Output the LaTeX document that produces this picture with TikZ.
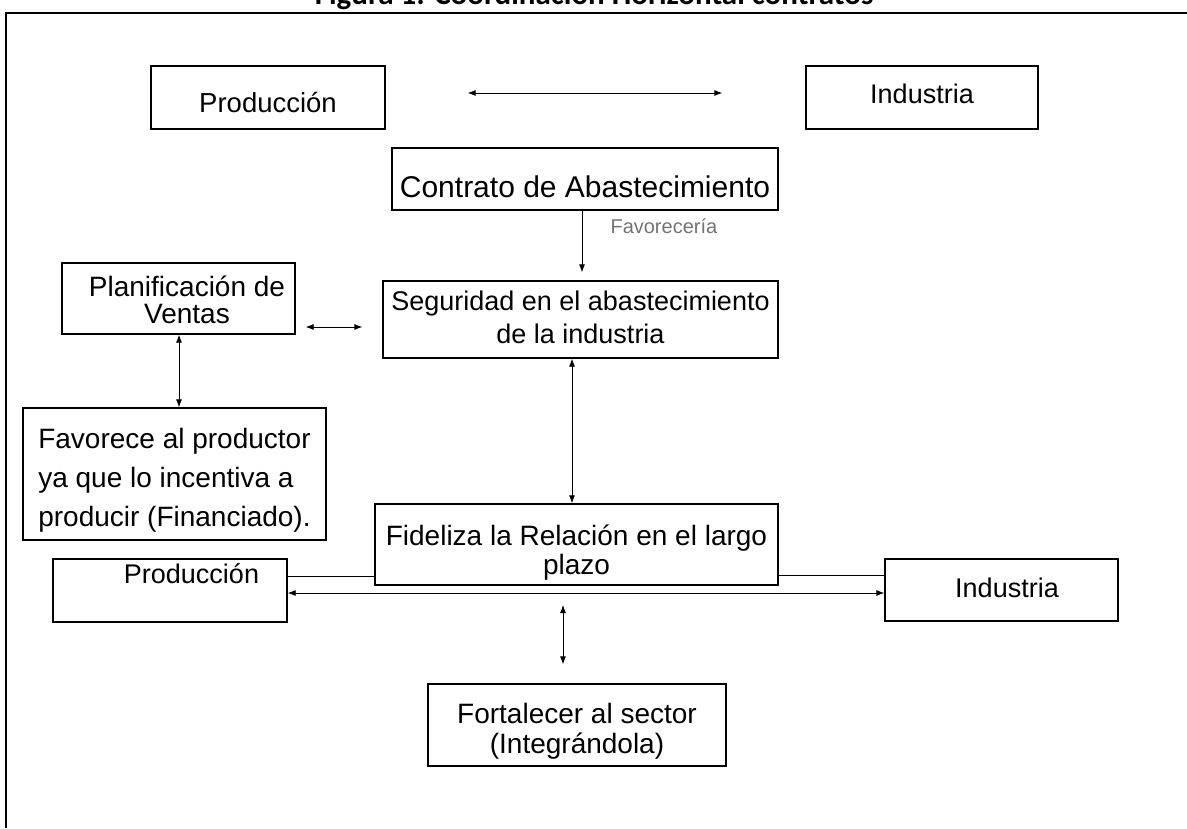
\documentclass[tikz,border=0pt]{standalone}
\usepackage{fontspec}
\setmainfont{Liberation Sans}
\newfontfamily\titlefont{Carlito}
\usetikzlibrary{arrows.meta}
\begin{document}
\begin{tikzpicture}[x=1pt,y=-1pt,
  box/.style={draw=black, line width=1.3pt, rectangle, inner sep=0pt, align=center},
  conn/.style={line width=0.8pt, draw=black},
  dbl/.style={conn, {Latex[length=8pt,width=6pt]}-{Latex[length=8pt,width=6pt]}},
  one/.style={conn, -{Latex[length=8pt,width=6pt]}},
  fs/.style n args={2}{font=\fontsize{#1}{#2}\selectfont}
]
\useasboundingbox (0,0) rectangle (1187,828);
\draw[line width=2.5pt] (6,828) -- (6,13) -- (1187,13);
\node[anchor=base, font=\titlefont\bfseries\fontsize{31}{31}\selectfont] (title) at (594,4) {Figura 1: Coordinación Horizontal contratos};

\node[box, fs={27.5}{27.5}, minimum width=234pt, minimum height=63pt, text height=29pt, text depth=0pt] (prodT) at (268,97.5) {Producción};
\node[box, fs={27}{27}, minimum width=232pt, minimum height=63pt, text height=11pt, text depth=0pt] (indT) at (922,97.5) {Industria};
\node[box, fs={30}{30}, minimum width=386pt, minimum height=62pt, text height=36pt, text depth=0pt] (contrato) at (585,179) {Contrato de Abastecimiento};
\node[box, fs={28}{27}, minimum width=233pt, minimum height=71pt, text height=49pt, text depth=0pt] (planif) at (178.5,298.5) {\hspace*{17pt}Planificación de\\\hspace*{17pt}Ventas};
\node[box, fs={27}{33}, minimum width=395pt, minimum height=77pt, text height=47pt, text depth=0pt] (segur) at (580.5,319.5) {Seguridad en el abastecimiento\\de la industria};
\node[box, align=left, fs={28}{39}, minimum width=303pt, minimum height=132pt, text height=104pt, text depth=0pt] (favor) at (174.5,474) {Favorece al productor\\ya que lo incentiva a\\producir (Financiado).};
\node[box, fs={28}{29}, minimum width=403pt, minimum height=81pt, text height=59pt, text depth=0pt] (fidel) at (576.5,544.5) {Fideliza la Relación en el largo\\plazo};
\node[box, fs={27}{27}, minimum width=234pt, minimum height=63pt, text height=0pt, text depth=15pt] (prodB) at (170,590.5) {\hspace*{43pt}Producción};
\node[box, fs={27}{27}, minimum width=233pt, minimum height=62pt, text height=14pt, text depth=0pt] (indB) at (1001.5,590) {\hspace*{11pt}Industria};
\node[box, fs={28}{30}, minimum width=298pt, minimum height=82pt, text height=56pt, text depth=0pt] (fortal) at (577,725) {Fortalecer al sector\\(Integrándola)};

\draw[dbl, shorten <=82pt, shorten >=83pt] ([yshift=4.5pt]prodT.east) -- ([yshift=4.5pt]indT.west);
\draw[one] ([xshift=-3pt]contrato.south) -- ([xshift=1.5pt,yshift=8pt]segur.north);
\node[anchor=base west, fs={20}{20}, text=black!55] (favlbl) at (607,233) {Favorecería};
\draw[dbl, shorten <=10pt, shorten >=20pt] ([yshift=-28.5pt]planif.east) -- ([yshift=-7.5pt]segur.west);
\draw[dbl] ([xshift=0.5pt]planif.south) -- ([xshift=4.5pt]favor.north);
\draw[dbl] ([xshift=-8.5pt]segur.south) -- ([xshift=-4.5pt]fidel.north);
\draw[conn] ([yshift=14.5pt]prodB.east) -- ([yshift=-31.5pt]fidel.west);
\draw[conn] ([yshift=-30.5pt]fidel.east) -- ([yshift=15pt]indB.west);
\draw[dbl] ([yshift=-2.5pt]prodB.east) -- ([yshift=-3pt]indB.west);
\coordinate (midtop) at (563,605);
\draw[dbl] (midtop) -- ([xshift=-14pt,yshift=19pt]fortal.north);
\end{tikzpicture}
\end{document}
